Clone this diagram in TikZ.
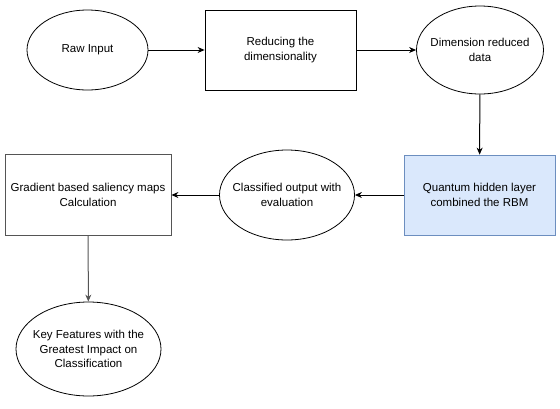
\documentclass[tikz,border=0pt]{standalone}
\usepackage{fontspec}
\setmainfont{Liberation Sans}
\usetikzlibrary{positioning, arrows.meta, shapes.geometric}
\definecolor{qfill}{HTML}{DAE8FC}
\definecolor{qline}{HTML}{6C8EBF}
\definecolor{greyline}{HTML}{555555}

\begin{document}
\begin{tikzpicture}[x=1pt, y=-1pt,
		myline/.style={draw=black, line width=0.8pt},
		box/.style={myline, rectangle, align=center, font=\fontsize{11.5}{14.5}\selectfont, inner sep=1pt},
		oval/.style={myline, ellipse, align=center, font=\fontsize{11.5}{14.5}\selectfont, inner xsep=-20pt, inner ysep=0pt},
		link/.style={-{Stealth[length=7pt, width=6pt]}, line width=1pt}]
		
		\useasboundingbox (0,0) rectangle (560,408);
		
		\node[oval, minimum width=121pt, minimum height=80pt] at (87.5,50)  (raw) {Raw Input};
		\node[box, minimum width=151pt, minimum height=80pt] at (280.5,50) (reduce) {Reducing the\\dimensionality};
		\node[oval, minimum width=127pt, minimum height=88pt] at (480,50) (reduced) {Dimension reduced\\data};
		
		\node[box, fill=qfill, draw=qline, minimum width=151pt, minimum height=80pt] at (479.5,195) (quantum) {Quantum hidden layer\\combined the RBM};
		\node[oval, minimum width=135pt, minimum height=90pt] at (287,195) (classified) {Classified output with\\evaluation};
		\node[box, draw=greyline, minimum width=166pt, minimum height=81pt] at (88,195) (saliency) {Gradient based saliency maps\\Calculation};
		
		\node[oval, minimum width=145pt, minimum height=94pt] at (88.5,349) (features) {Key Features with the\\Greatest Impact on\\Classification};
		
		\draw[link] (raw) -- (reduce);
		\draw[link] (reduce) -- (reduced);
		\draw[link] (reduced) -- (quantum);
		\draw[link] (quantum) -- (classified);
		\draw[link] (classified) -- (saliency);
		\draw[link, greyline] (saliency) -- (features);
	\end{tikzpicture}
\end{document}
